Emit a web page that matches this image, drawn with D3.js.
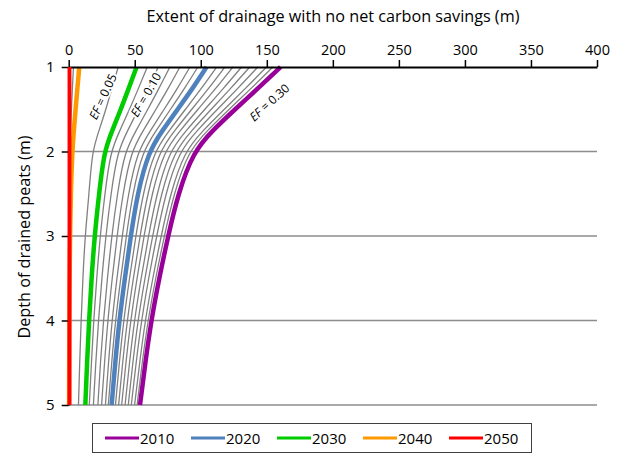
<!DOCTYPE html>
<html>
<head>
<meta charset="utf-8">
<script src="https://cdn.jsdelivr.net/npm/d3@7"></script>
<style>
  html, body { margin: 0; padding: 0; background: #fff; }
  svg { display: block; font-family: "Open Sans", sans-serif; }
</style>
</head>
<body>
<svg id="chart" width="629" height="454"></svg>
<script>
// Depth of drained peat (m) at which each curve is sampled
const depths = [1, 1.25, 1.5, 1.75, 2, 2.5, 3, 3.5, 4, 4.5, 5];

// Extent of drainage (m) for each year
const series2010 = [160.4, 143.5, 126.0, 109.0, 94.5, 82.8, 75.3, 68.5, 62.5, 58.0, 54.0];
const series2020 = [104.4, 94.0, 82.5, 71.0, 60.5, 52.0, 47.0, 42.5, 38.3, 35.2, 32.5];
const series2030 = [51.4, 45.5, 39.5, 33.0, 26.8, 23.0, 19.6, 17.3, 15.4, 13.9, 12.6];
const series2040 = [8.0, 6.6, 5.2, 3.9, 2.7, 1.6, 1.0, 0.7, 0.5, 0.4, 0.3];
const series2050 = [0.6, 0.6, 0.6, 0.6, 0.6, 0.6, 0.6, 0.6, 0.6, 0.6, 0.6];

// Emission-factor reference curves (thin grey)
const efCurves = [
  [3.6, 2.8, 2.0, 1.4, 0.9, 0.5, 0.3, 0.2, 0.2, 0.2, 0.2],
  [37.5, 32.8, 28.2, 23.0, 17.7, 15.4, 12.4, 10.7, 9.4, 8.3, 7.4],
  [59.5, 52.9, 46.1, 38.8, 31.6, 27.4, 23.8, 21.2, 18.9, 17.2, 15.6],
  [67.8, 60.5, 52.8, 44.7, 36.9, 32.0, 28.1, 25.1, 22.5, 20.5, 18.7],
  [76.6, 68.5, 59.9, 51.1, 42.4, 36.8, 32.6, 29.3, 26.3, 24.0, 22.1],
  [84.2, 75.5, 66.1, 56.5, 47.2, 41.0, 36.6, 32.9, 29.6, 27.1, 24.9],
  [91.8, 82.5, 72.3, 62.0, 52.0, 45.1, 40.5, 36.5, 32.8, 30.1, 27.8],
  [97.8, 87.9, 77.1, 66.3, 55.8, 48.4, 43.6, 39.4, 35.4, 32.5, 30.0],
  [112.0, 100.7, 88.4, 76.2, 64.6, 56.2, 50.8, 46.0, 41.6, 38.3, 35.4],
  [118.2, 106.2, 93.2, 80.3, 68.4, 59.6, 54.0, 48.9, 44.3, 40.8, 37.8],
  [124.3, 111.6, 97.9, 84.5, 72.1, 62.9, 57.0, 51.7, 46.9, 43.3, 40.1],
  [130.9, 117.4, 103.1, 89.0, 76.1, 66.6, 60.4, 54.8, 49.7, 46.0, 42.7],
  [137.1, 122.9, 107.9, 93.2, 79.9, 70.0, 63.5, 57.7, 52.4, 48.5, 45.1],
  [143.2, 128.3, 112.6, 97.3, 83.6, 73.3, 66.6, 60.5, 55.1, 51.0, 47.4],
  [149.8, 134.1, 117.8, 101.8, 87.6, 77.0, 70.0, 63.6, 57.9, 53.7, 49.9],
  [154.6, 138.4, 121.5, 105.0, 90.5, 79.6, 72.4, 65.8, 60.0, 55.6, 51.8]
];

// Curve annotations: text, anchor (extent, depth), rotation
const efLabelText = ["0.05", "0.10", "0.30"];
const efLabelAt = [[26.0, 1.35], [58.5, 1.33], [152.0, 1.42]];
const efLabelAngle = [-65, -60, -42];

const xTicks = [0, 50, 100, 150, 200, 250, 300, 350, 400];
const yTicks = [1, 2, 3, 4, 5];

const years = ["2010", "2020", "2030", "2040", "2050"];
const yearSeries = [series2010, series2020, series2030, series2040, series2050];
const yearColors = ["#990099", "#4f81bd", "#00cc00", "#ff9900", "#ff0000"];

const svg = d3.select("#chart");
const x = d3.scaleLinear().domain([0, 400]).range([68.7, 597]);
const y = d3.scaleLinear().domain([1, 5]).range([67, 405]);

// horizontal gridlines
svg.append("g").selectAll("line")
  .data(yTicks.slice(1))
  .join("line")
  .attr("x1", x(0)).attr("x2", x(400))
  .attr("y1", d => y(d)).attr("y2", d => y(d))
  .attr("stroke", "#8c8c8c").attr("stroke-width", 1.6);

const line = vals => d3.line()
  .x(d => x(d))
  .y((d, i) => y(depths[i]))
  .curve(d3.curveBasis)(vals);

// grey EF curves
svg.append("g").selectAll("path")
  .data(efCurves)
  .join("path")
  .attr("d", line)
  .attr("fill", "none")
  .attr("stroke", "#808080")
  .attr("stroke-width", 1.3);

// EF labels with white backing
const efG = svg.append("g");
efLabelText.forEach((t, i) => {
  const [ex, ed] = efLabelAt[i];
  const txt = efG.append("text")
    .attr("transform", `translate(${x(ex)},${y(ed)}) rotate(${efLabelAngle[i]})`)
    .attr("text-anchor", "middle")
    .attr("dy", "0.35em")
    .attr("font-size", 12)
    .attr("fill", "#000")
    .attr("stroke", "#fff")
    .attr("stroke-width", 4)
    .attr("paint-order", "stroke");
  txt.append("tspan").attr("font-style", "italic").text("EF");
  txt.append("tspan").text(" = " + t);
});

// year curves (2010 first, 2050 on top)
svg.append("g").selectAll("path")
  .data(yearSeries)
  .join("path")
  .attr("d", line)
  .attr("fill", "none")
  .attr("stroke", (d, i) => yearColors[i])
  .attr("stroke-width", (d, i) => i === 4 ? 3.5 : 4.5)
  .attr("stroke-linecap", "butt");

// top axis
const xAxis = svg.append("g")
  .attr("transform", `translate(0,${y(1)})`)
  .call(d3.axisTop(x).tickValues(xTicks).tickSize(7).tickSizeOuter(0).tickPadding(5));
xAxis.select(".domain").attr("stroke", "#000").attr("stroke-width", 2);
xAxis.selectAll(".tick line").attr("stroke", "#000").attr("stroke-width", 1.5);
xAxis.selectAll(".tick text").attr("font-size", 14.5).attr("fill", "#000").attr("font-family", "'Open Sans', sans-serif");

// left axis
const yAxis = svg.append("g")
  .attr("transform", `translate(${x(0)},0)`)
  .call(d3.axisLeft(y).tickValues(yTicks).tickFormat(d3.format("d")).tickSize(7).tickSizeOuter(0).tickPadding(7));
yAxis.select(".domain").attr("stroke", "#000").attr("stroke-width", 2);
yAxis.selectAll(".tick line").attr("stroke", "#000").attr("stroke-width", 1.5);
yAxis.selectAll(".tick text").attr("font-size", 15).attr("fill", "#000").attr("font-family", "'Open Sans', sans-serif");

// red 2050 curve sits over the left axis
svg.append("path")
  .attr("d", line(series2050))
  .attr("fill", "none")
  .attr("stroke", yearColors[4])
  .attr("stroke-width", 3.5);

// titles
svg.append("text")
  .attr("x", 333).attr("y", 22)
  .attr("text-anchor", "middle")
  .attr("font-size", 16.2)
  .text("Extent of drainage with no net carbon savings (m)");

svg.append("text")
  .attr("transform", "translate(30,237) rotate(-90)")
  .attr("text-anchor", "middle")
  .attr("font-size", 16.2)
  .text("Depth of drained peats (m)");

// legend
const lg = svg.append("g");
lg.append("rect")
  .attr("x", 92.5).attr("y", 423.5)
  .attr("width", 439).attr("height", 29)
  .attr("fill", "#fff").attr("stroke", "#404040").attr("stroke-width", 1);
years.forEach((yr, i) => {
  const lx = 105 + i * 86;
  lg.append("line")
    .attr("x1", lx).attr("x2", lx + 34)
    .attr("y1", 438).attr("y2", 438)
    .attr("stroke", yearColors[i]).attr("stroke-width", 3);
  lg.append("text")
    .attr("x", lx + 35).attr("y", 443.5)
    .attr("font-size", 15)
    .text(yr);
});
</script>
</body>
</html>
